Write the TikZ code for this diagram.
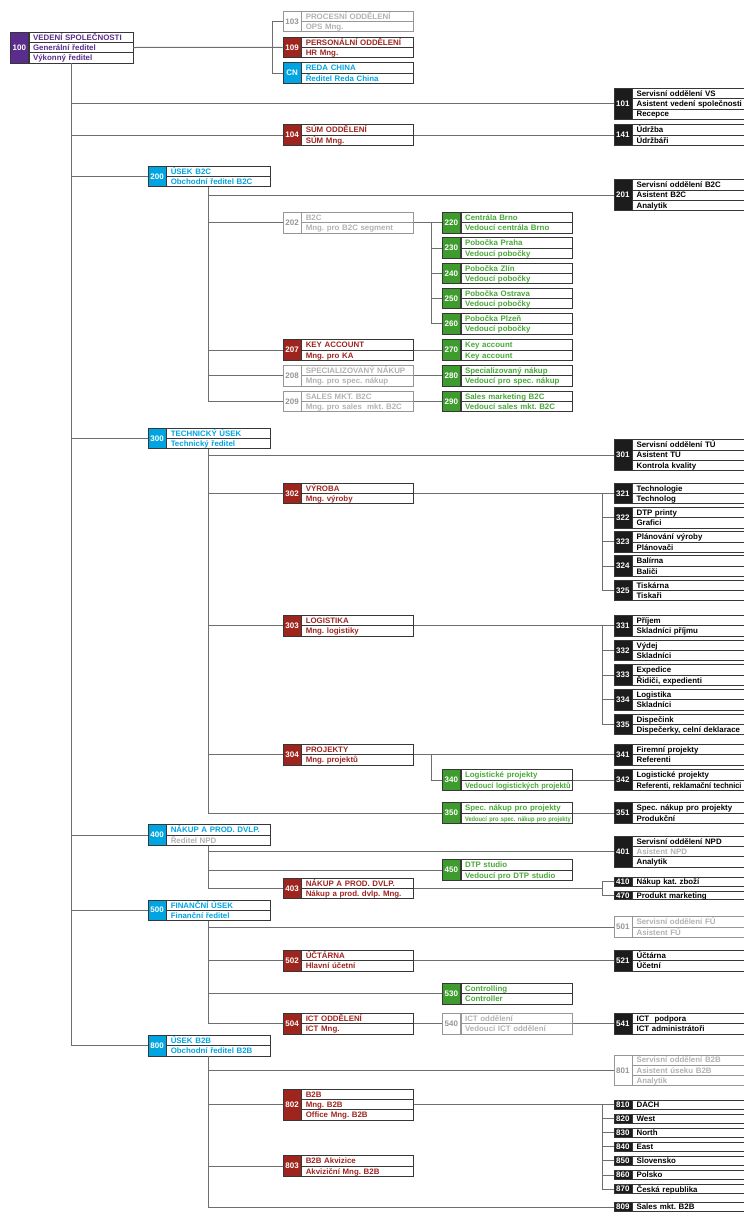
\documentclass[tikz,border=0pt]{standalone}
\usepackage{fontspec}
\setmainfont{Liberation Sans}
\usepackage{xcolor}
\usepackage{tikz}

\definecolor{cpurple}{RGB}{90,44,140}
\definecolor{cred}{RGB}{158,36,30}
\definecolor{ccyan}{RGB}{0,164,224}
\definecolor{cgreen}{RGB}{62,156,46}
\definecolor{cgreentext}{RGB}{72,168,56}
\definecolor{cblack}{RGB}{28,28,28}
\definecolor{cgraytext}{RGB}{178,178,178}
\definecolor{cgraynum}{RGB}{150,150,150}
\definecolor{cgraybox}{RGB}{150,150,150}
\definecolor{boxline}{RGB}{55,55,55}
\definecolor{linegray}{RGB}{110,110,110}

% one unit: number cell + text rows
% [row height]{name}{x,y}{rows}{number}{number style}{row style}{rows}
\newcommand{\orgunit}[8][10.3]{%
  \node[numcell, #6, minimum height=#4*#1pt, anchor=west] (#2) at (#3) {#5};
  \foreach \rowtext [count=\k] in {#8} {
    \node[rowcell, #7, minimum height=#1pt, anchor=north west,
          yshift={-(\k-1)*#1pt}] (#2-\k) at (#2.north east) {\mbox{\rowtext}};
  }
  \coordinate (#2-e) at (#2 -| #2-1.east);
}

\begin{document}
\frenchspacing
\begin{tikzpicture}[x=1pt, y=-1pt,
% common options for the number cells:
numcell/.style = {draw=boxline, line width=0.7pt, minimum width=18pt, inner sep=0,
            text=white, font=\fontsize{8}{9}\selectfont\bfseries},
% common options for the text rows:
rowcell/.style = {draw=boxline, line width=0.7pt, inner xsep=4pt, inner ysep=0,
            text height=7.2pt, text depth=1.3pt, align=left,
            font=\fontsize{7.9}{9}\selectfont\bfseries},
narrow/.style = {text width=96pt},
wide/.style = {text width=103.5pt},
npurple/.style = {fill=cpurple}, tpurple/.style = {text=cpurple},
nred/.style = {fill=cred}, tred/.style = {text=cred},
ncyan/.style = {fill=ccyan}, tcyan/.style = {text=ccyan},
ngreen/.style = {fill=cgreen}, tgreen/.style = {text=cgreentext},
nblack/.style = {fill=cblack}, tblack/.style = {text=black},
ngray/.style = {fill=white, draw=cgraybox, text=cgraynum},
tgray/.style = {draw=cgraybox, text=cgraytext},
link/.style = {draw=linegray, line width=1pt}]
\useasboundingbox (0,0) rectangle (744,1216);

\coordinate (trunk) at (71.7,0);
\coordinate (trunkB) at (208.7,0);
\coordinate (forkD) at (431,0);
\coordinate (forkE) at (602,0);

\orgunit{u100}{10,47.5}{3}{100}{npurple}{tpurple, narrow}{VEDENÍ SPOLEČNOSTI, Generální ředitel, Výkonný ředitel}
\orgunit{u103}{282.7,21.5}{2}{103}{ngray}{tgray, wide}{PROCESNÍ ODDĚLENÍ, OPS Mng.}
\orgunit{u109}{282.7,47.3}{2}{109}{nred}{tred, wide}{PERSONÁLNÍ ODDĚLENÍ, HR Mng.}
\orgunit{uCN}{282.7,73}{2}{CN}{ncyan}{tcyan, wide}{REDA CHINA, Ředitel Reda China}
\orgunit{u101}{613.5,103.7}{3}{101}{nblack}{tblack, wide}{Servisní oddělení VS, Asistent vedení společnosti, Recepce}
\orgunit{u104}{282.7,135}{2}{104}{nred}{tred, wide}{SÚM ODDĚLENÍ, SÚM Mng.}
\orgunit{u141}{613.5,135}{2}{141}{nblack}{tblack, wide}{Údržba, Údržbáři}

% B2C
\orgunit{u200}{147.7,176.3}{2}{200}{ncyan}{tcyan, narrow}{ÚSEK B2C, Obchodní ředitel B2C}
\orgunit{u201}{613.5,195}{3}{201}{nblack}{tblack, wide}{Servisní oddělení B2C, Asistent B2C, Analytik}
\orgunit{u202}{282.7,222.8}{2}{202}{ngray}{tgray, wide}{B2C, Mng. pro B2C segment}
\orgunit{u220}{442,222.8}{2}{220}{ngreen}{tgreen, wide}{Centrála Brno, Vedoucí centrála Brno}
\orgunit{u230}{442,248}{2}{230}{ngreen}{tgreen, wide}{Pobočka Praha, Vedoucí pobočky}
\orgunit{u240}{442,273.3}{2}{240}{ngreen}{tgreen, wide}{Pobočka Zlín, Vedoucí pobočky}
\orgunit{u250}{442,298.5}{2}{250}{ngreen}{tgreen, wide}{Pobočka Ostrava, Vedoucí pobočky}
\orgunit{u260}{442,323.8}{2}{260}{ngreen}{tgreen, wide}{Pobočka Plzeň, Vedoucí pobočky}
\orgunit{u207}{282.7,350}{2}{207}{nred}{tred, wide}{KEY ACCOUNT, Mng. pro KA}
\orgunit{u270}{442,350}{2}{270}{ngreen}{tgreen, wide}{Key account, Key account}
\orgunit{u208}{282.7,375.7}{2}{208}{ngray}{tgray, wide}{SPECIALIZOVANÝ NÁKUP, Mng. pro spec. nákup}
\orgunit{u280}{442,375.7}{2}{280}{ngreen}{tgreen, wide}{Specializovaný nákup, Vedoucí pro spec. nákup}
\orgunit{u209}{282.7,401.3}{2}{209}{ngray}{tgray, wide}{SALES MKT. B2C, Mng. pro sales\ \ mkt. B2C}
\orgunit{u290}{442,401.3}{2}{290}{ngreen}{tgreen, wide}{Sales marketing B2C, Vedoucí sales mkt. B2C}

% technical
\orgunit{u300}{147.7,438.5}{2}{300}{ncyan}{tcyan, narrow}{TECHNICKÝ ÚSEK, Technický ředitel}
\orgunit{u301}{613.5,455}{3}{301}{nblack}{tblack, wide}{Servisní oddělení TÚ, Asistent TÚ, Kontrola kvality}
\orgunit{u302}{282.7,493.5}{2}{302}{nred}{tred, wide}{VÝROBA, Mng. výroby}
\orgunit{u321}{613.5,493.5}{2}{321}{nblack}{tblack, wide}{Technologie, Technolog}
\orgunit{u322}{613.5,517.7}{2}{322}{nblack}{tblack, wide}{DTP printy, Grafici}
\orgunit{u323}{613.5,541.9}{2}{323}{nblack}{tblack, wide}{Plánování výroby, Plánovači}
\orgunit{u324}{613.5,566.1}{2}{324}{nblack}{tblack, wide}{Balírna, Baliči}
\orgunit{u325}{613.5,590.3}{2}{325}{nblack}{tblack, wide}{Tiskárna, Tiskaři}
\orgunit{u303}{282.7,625.7}{2}{303}{nred}{tred, wide}{LOGISTIKA, Mng. logistiky}
\orgunit{u331}{613.5,625.7}{2}{331}{nblack}{tblack, wide}{Příjem, Skladníci příjmu}
\orgunit{u332}{613.5,650.4}{2}{332}{nblack}{tblack, wide}{Výdej, Skladníci}
\orgunit{u333}{613.5,675.1}{2}{333}{nblack}{tblack, wide}{Expedice, {Řidiči, expedienti}}
\orgunit{u334}{613.5,699.8}{2}{334}{nblack}{tblack, wide}{Logistika, Skladníci}
\orgunit{u335}{613.5,724.5}{2}{335}{nblack}{tblack, wide}{Dispečink, {Dispečerky, celní deklarace}}
\orgunit{u304}{282.7,754.7}{2}{304}{nred}{tred, wide}{PROJEKTY, Mng. projektů}
\orgunit{u341}{613.5,754.7}{2}{341}{nblack}{tblack, wide}{Firemní projekty, Referenti}
\orgunit{u340}{442,780}{2}{340}{ngreen}{tgreen, wide}{Logistické projekty, \scalebox{0.94}[1]{Vedoucí logistických projektů}}
\orgunit{u342}{613.5,780}{2}{342}{nblack}{tblack, wide}{Logistické projekty, {\scalebox{0.93}[1]{Referenti, reklamační technici}}}
\orgunit{u350}{442,813}{2}{350}{ngreen}{tgreen, wide}{Spec. nákup pro projekty, {\fontsize{6.5}{7}\selectfont\scalebox{0.88}[1]{Vedoucí pro spec. nákup pro projekty}}}
\orgunit{u351}{613.5,813}{2}{351}{nblack}{tblack, wide}{Spec. nákup pro projekty, Produkční}

% NPD
\orgunit{u400}{147.7,835}{2}{400}{ncyan}{tcyan, narrow}{NÁKUP A PROD. DVLP., \color{cgraytext}Ředitel NPD}
\orgunit{u401}{613.5,851.5}{3}{401}{nblack}{tblack, wide}{Servisní oddělení NPD, \color{cgraytext}Asistent NPD, Analytik}
\orgunit{u450}{442,870}{2}{450}{ngreen}{tgreen, wide}{DTP studio, Vedoucí pro DTP studio}
\orgunit{u403}{282.7,888.3}{2}{403}{nred}{tred, wide}{NÁKUP A PROD. DVLP., Nákup a prod. dvlp. Mng.}
\orgunit[8.8]{u410}{613.5,881.5}{1}{410}{nblack}{tblack, wide}{Nákup kat. zboží}
\orgunit[8.8]{u470}{613.5,895.3}{1}{470}{nblack}{tblack, wide}{Produkt marketing}

% finance
\orgunit{u500}{147.7,910.2}{2}{500}{ncyan}{tcyan, narrow}{FINANČNÍ ÚSEK, Finanční ředitel}
\orgunit{u501}{613.5,927}{2}{501}{ngray}{tgray, wide}{Servisní oddělení FÚ, Asistent FÚ}
\orgunit{u502}{282.7,960.8}{2}{502}{nred}{tred, wide}{ÚČTÁRNA, Hlavní účetní}
\orgunit{u521}{613.5,960.8}{2}{521}{nblack}{tblack, wide}{Účtárna, Účetní}
\orgunit{u530}{442,993.8}{2}{530}{ngreen}{tgreen, wide}{Controlling, Controller}
\orgunit{u504}{282.7,1023.8}{2}{504}{nred}{tred, wide}{ICT ODDĚLENÍ, ICT Mng.}
\orgunit{u540}{442,1023.8}{2}{540}{ngray}{tgray, wide}{ICT oddělení, Vedoucí ICT oddělení}
\orgunit{u541}{613.5,1023.8}{2}{541}{nblack}{tblack, wide}{ICT\ \ podpora, ICT administrátoři}

% B2B
\orgunit{u800}{147.7,1045.7}{2}{800}{ncyan}{tcyan, narrow}{ÚSEK B2B, Obchodní ředitel B2B}
\orgunit{u801}{613.5,1070.3}{3}{801}{ngray}{tgray, wide}{Servisní oddělení B2B, Asistent úseku B2B, Analytik}
\orgunit{u802}{282.7,1104.5}{3}{802}{nred}{tred, wide}{B2B, Mng. B2B, Office Mng. B2B}
\orgunit{u803}{282.7,1166}{2}{803}{nred}{tred, wide}{B2B Akvizice, Akviziční Mng. B2B}
\orgunit[8.8]{u810}{613.5,1104.5}{1}{810}{nblack}{tblack, wide}{DACH}
\orgunit[8.8]{u820}{613.5,1118.6}{1}{820}{nblack}{tblack, wide}{West}
\orgunit[8.8]{u830}{613.5,1132.7}{1}{830}{nblack}{tblack, wide}{North}
\orgunit[8.8]{u840}{613.5,1146.8}{1}{840}{nblack}{tblack, wide}{East}
\orgunit[8.8]{u850}{613.5,1160.9}{1}{850}{nblack}{tblack, wide}{Slovensko}
\orgunit[8.8]{u860}{613.5,1175}{1}{860}{nblack}{tblack, wide}{Polsko}
\orgunit[8.8]{u870}{613.5,1189.1}{1}{870}{nblack}{tblack, wide}{Česká republika}
\orgunit[8.8]{u809}{613.5,1207}{1}{809}{nblack}{tblack, wide}{Sales mkt. B2B}

% connectors
\draw[link] (u100-e) -- (u109.west);
\draw[link] (u103.west) -- ++(-10.7,0) |- (uCN.west);
\draw[link] (trunk |- u100.south) |- (u800.west);
\draw[link] (trunk |- u101) -- (u101.west);
\draw[link] (trunk |- u104) -- (u104.west);
\draw[link] (u104-e) -- (u141.west);
\draw[link] (trunk |- u200) -- (u200.west);
\draw[link] (trunk |- u300) -- (u300.west);
\draw[link] (trunk |- u400) -- (u400.west);
\draw[link] (trunk |- u500) -- (u500.west);

\draw[link] (trunkB |- u200.south) |- (u209.west);
\draw[link] (trunkB |- u201) -- (u201.west);
\draw[link] (trunkB |- u202) -- (u202.west);
\draw[link] (trunkB |- u207) -- (u207.west);
\draw[link] (trunkB |- u208) -- (u208.west);
\draw[link] (u202-e) -- (u220.west);
\draw[link] (forkD |- u220) |- (u260.west);
\draw[link] (forkD |- u230) -- (u230.west);
\draw[link] (forkD |- u240) -- (u240.west);
\draw[link] (forkD |- u250) -- (u250.west);
\draw[link] (u207-e) -- (u270.west);
\draw[link] (u208-e) -- (u280.west);
\draw[link] (u209-e) -- (u290.west);

\draw[link] (trunkB |- u300.south) |- (u350.west);
\draw[link] (trunkB |- u301) -- (u301.west);
\draw[link] (trunkB |- u302) -- (u302.west);
\draw[link] (trunkB |- u303) -- (u303.west);
\draw[link] (trunkB |- u304) -- (u304.west);
\draw[link] (u302-e) -- (u321.west);
\draw[link] (forkE |- u321) |- (u325.west);
\draw[link] (forkE |- u322) -- (u322.west);
\draw[link] (forkE |- u323) -- (u323.west);
\draw[link] (forkE |- u324) -- (u324.west);
\draw[link] (u303-e) -- (u331.west);
\draw[link] (forkE |- u331) |- (u335.west);
\draw[link] (forkE |- u332) -- (u332.west);
\draw[link] (forkE |- u333) -- (u333.west);
\draw[link] (forkE |- u334) -- (u334.west);
\draw[link] (u304-e) -- (u341.west);
\draw[link] (forkD |- u304) |- (u340.west);
\draw[link] (u340-e) -- (u342.west);
\draw[link] (u350-e) -- (u351.west);

\draw[link] (trunkB |- u400.south) |- (u403.west);
\draw[link] (trunkB |- u401) -- (u401.west);
\draw[link] (trunkB |- u450) -- (u450.west);
\draw[link] (u403-e) -- (forkE |- u403);
\draw[link] (u410.west) -- (forkE |- u410) -- (forkE |- u470) -- (u470.west);

\draw[link] (trunkB |- u500.south) |- (u504.west);
\draw[link] (trunkB |- u501) -- (u501.west);
\draw[link] (trunkB |- u502) -- (u502.west);
\draw[link] (trunkB |- u530) -- (u530.west);
\draw[link] (u502-e) -- (u521.west);
\draw[link] (u504-e) -- (u540.west);
\draw[link] (u540-e) -- (u541.west);

\draw[link] (trunkB |- u800.south) |- (u809.west);
\draw[link] (trunkB |- u801) -- (u801.west);
\draw[link] (trunkB |- u802) -- (u802.west);
\draw[link] (trunkB |- u803) -- (u803.west);
\draw[link] (u802-e) -- (u810.west);
\draw[link] (forkE |- u810) |- (u870.west);
\draw[link] (forkE |- u820) -- (u820.west);
\draw[link] (forkE |- u830) -- (u830.west);
\draw[link] (forkE |- u840) -- (u840.west);
\draw[link] (forkE |- u850) -- (u850.west);
\draw[link] (forkE |- u860) -- (u860.west);
\end{tikzpicture}
\end{document}
